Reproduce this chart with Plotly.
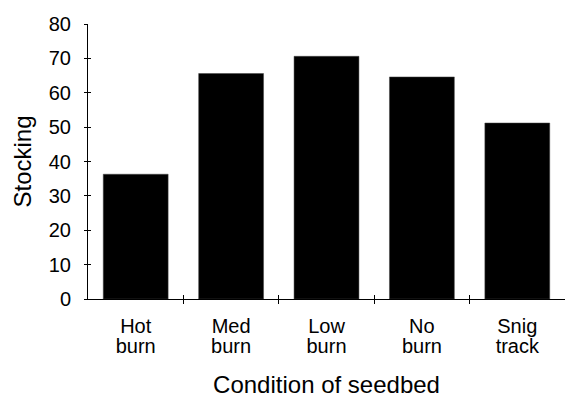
import plotly.graph_objects as go

# Category labels (two printed lines each)
cat_line1 = ["Hot", "Med", "Low", "No", "Snig"]
cat_line2 = ["burn", "burn", "burn", "burn", "track"]
stocking = [36.3, 65.6, 70.6, 64.6, 51.2]
y_ticks = [0, 10, 20, 30, 40, 50, 60, 70, 80]

positions = list(range(len(cat_line1)))
boundaries = [p + 0.5 for p in positions[:-1]]

font_family = "Liberation Sans, Arial, sans-serif"
tick_size = 20
title_size = 24

fig = go.Figure()
fig.add_trace(go.Bar(
    x=positions, y=stocking,
    marker=dict(color="black", line=dict(color="#444", width=0.5)),
    width=0.68,
))
# invisible helper traces so the overlay axes (crossing ticks, 2nd label line) are drawn
fig.add_trace(go.Scatter(x=positions, y=stocking, xaxis="x2", yaxis="y2",
                         mode="markers", marker=dict(opacity=0), hoverinfo="skip"))
fig.add_trace(go.Scatter(x=positions, y=stocking, xaxis="x3", yaxis="y",
                         mode="markers", marker=dict(opacity=0), hoverinfo="skip"))

common_x = dict(range=[-0.5, 4.5], showgrid=False, zeroline=False, automargin=False)
common_y = dict(range=[0, 80], showgrid=False, zeroline=False, automargin=False)

fig.update_layout(
    width=565, height=398,
    margin=dict(l=88, r=0, t=24, b=99),
    paper_bgcolor="white", plot_bgcolor="white",
    showlegend=False,
    font=dict(family=font_family, color="black", size=tick_size),
    xaxis=dict(
        **common_x,
        tickmode="array", tickvals=positions, ticktext=cat_line1,
        ticks="", showline=True, linecolor="black", linewidth=1,
        tickfont=dict(size=tick_size),
        ticklabelstandoff=9,
        minor=dict(tickmode="array", tickvals=boundaries, ticks="outside",
                   ticklen=4, tickcolor="black", tickwidth=1),
        title=dict(text="Condition of seedbed", font=dict(size=title_size), standoff=40),
    ),
    xaxis2=dict(
        **common_x,
        overlaying="x", anchor="y2", side="bottom",
        tickmode="array", tickvals=boundaries,
        ticks="inside", ticklen=4, tickcolor="black",
        showticklabels=False, showline=False,
    ),
    xaxis3=dict(
        **common_x,
        overlaying="x", anchor="y", side="bottom",
        tickmode="array", tickvals=positions, ticktext=cat_line2,
        ticks="", showline=False,
        tickfont=dict(size=tick_size),
        ticklabelstandoff=33,
    ),
    yaxis=dict(
        **common_y,
        tickmode="array", tickvals=y_ticks,
        ticks="outside", ticklen=3, tickcolor="black",
        showline=True, linecolor="black", linewidth=1,
        tickfont=dict(size=tick_size),
        ticklabelstandoff=9,
        title=dict(text="Stocking", font=dict(size=title_size), standoff=10),
    ),
    yaxis2=dict(
        **common_y,
        overlaying="y", anchor="x2", side="left",
        tickmode="array", tickvals=y_ticks,
        ticks="inside", ticklen=3, tickcolor="black",
        showticklabels=False, showline=False,
    ),
)

fig.write_html("out.html", config={"displayModeBar": False},
               post_script="document.body.style.margin='0px';")
